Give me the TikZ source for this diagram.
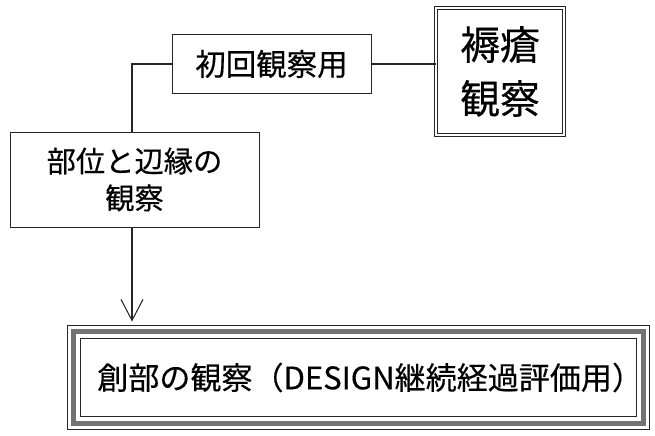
\documentclass[tikz,border=0pt]{standalone}
\usepackage{fontspec}
\setmainfont{Noto Sans CJK JP}[UprightFeatures={FakeBold=0.35}]
\usetikzlibrary{arrows.meta}

\begin{document}
\begin{tikzpicture}[x=0.03cm,y=-0.03cm,line width=0.8pt,
  box/.style={draw=black!85,fill=white,inner sep=0pt,align=center},
  link/.style={draw=black!85,line width=0.9pt}]
  \useasboundingbox (0,0) rectangle (655,435);
  % main subject box (double frame)
  \node[box,double,double distance=2.4pt,minimum width=3.84cm,minimum height=3.81cm,
    font=\fontsize{34}{46}\selectfont] (sore) at (500,71.5) {褥瘡\\観察};
  % first observation
  \node[box,minimum width=5.97cm,minimum height=1.77cm,
    font=\fontsize{26}{30}\selectfont] (first) at (271.5,64) {初回観察用};
  % site and edge
  \node[box,minimum width=7.47cm,minimum height=2.85cm,
    font=\fontsize{25}{31.5}\selectfont] (site) at (134.5,179.5) {部位と辺縁の\\観察};
  % wound bed (triple frame)
  \node[box,double,double distance=11pt,minimum width=17.07cm,minimum height=2.73cm,
    font=\fontsize{26.5}{30}\selectfont] (wound) at (358.5,377.5) {\hspace*{0.7cm}創部の観察（DESIGN継続経過評価用）};
  \draw[black!55,line width=4.5pt] (wound.south west) rectangle (wound.north east);
  % connectors
  \coordinate (bend) at (132,0);
  \draw[link] (first.east) -- (first.east -| sore.west);
  \draw[link] (first.west) -| (bend |- site.north);
  \draw[link,shorten >=0.3cm,-{Straight Barb[length=0.63cm,width=0.66cm]}] (bend |- site.south) -- (bend |- wound.north);
\end{tikzpicture}
\end{document}
